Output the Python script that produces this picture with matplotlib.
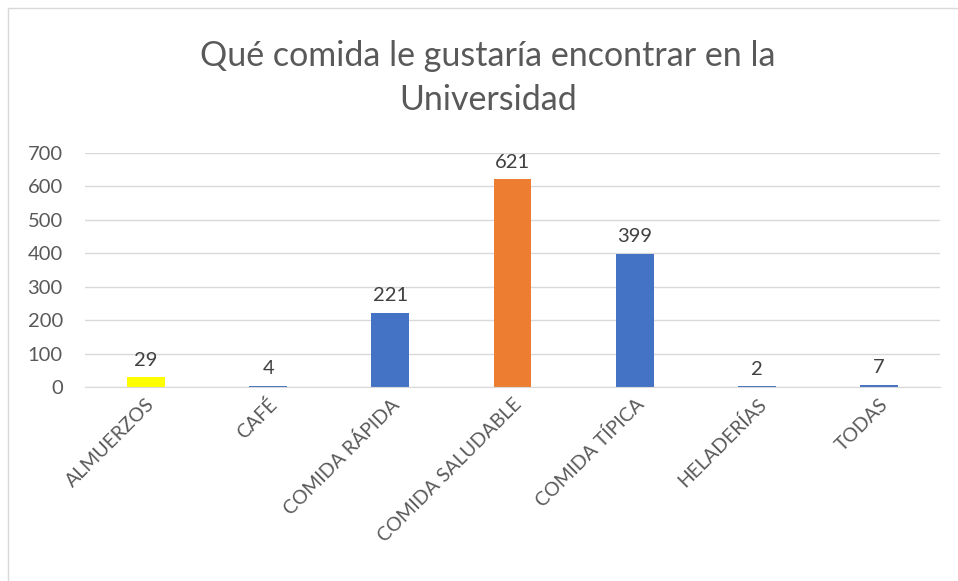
import matplotlib.pyplot as plt
from matplotlib.patches import Rectangle

# data
categorias = ["ALMUERZOS", "CAFÉ", "COMIDA RÁPIDA", "COMIDA SALUDABLE",
              "COMIDA TÍPICA", "HELADERÍAS", "TODAS"]
votos = [29, 4, 221, 621, 399, 2, 7]
colores = ["#FFFF00", "#4472C4", "#4472C4", "#ED7D31",
           "#4472C4", "#4472C4", "#4472C4"]

plt.rcParams['font.family'] = ['Lato', 'DejaVu Sans']

fig = plt.figure(figsize=(9.58, 5.81), dpi=100)

# chart frame
fig.patches.append(Rectangle((8 / 958, -0.1), 1.2, 1.1 - 8 / 581,
                             transform=fig.transFigure, fill=False,
                             edgecolor="#D9D9D9", linewidth=1))

ax = fig.add_axes([85 / 958, 194 / 581, 855 / 958, 234 / 581])

x = range(len(categorias))
bars = ax.bar(x, votos, width=0.31, color=colores)

for b, v in zip(bars, votos):
    ax.text(b.get_x() + b.get_width() / 2, v + 26, str(v),
            ha="center", va="bottom", fontsize=14.5, color="#404040")

ax.set_xlim(-0.5, len(categorias) - 0.5)
ax.set_ylim(0, 700)
ax.set_yticks(range(0, 701, 100))
ax.yaxis.grid(True, color="#D9D9D9", linewidth=1)
ax.set_axisbelow(True)
for s in ["top", "right", "left"]:
    ax.spines[s].set_visible(False)
ax.spines["bottom"].set_color("#D9D9D9")
ax.tick_params(axis="both", length=0, labelsize=14.5, colors="#595959")
ax.tick_params(axis="y", pad=16)
ax.tick_params(axis="x", pad=6)
ax.set_xticks(list(x))
ax.set_xticklabels(categorias, rotation=45, ha="right",
                   rotation_mode="anchor", fontsize=14)

fig.text(488 / 958, 1 - 56 / 581, "Qué comida le gustaría encontrar en la",
         ha="center", va="center", fontsize=24.5, color="#595959")
fig.text(488 / 958, 1 - 100 / 581, "Universidad",
         ha="center", va="center", fontsize=24.5, color="#595959")

fig.savefig("out.png", dpi=100)
